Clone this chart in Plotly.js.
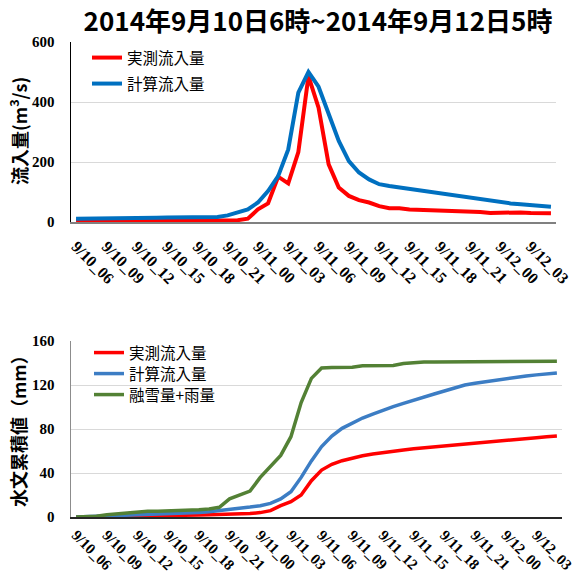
<!DOCTYPE html>
<html>
<head>
<meta charset="utf-8">
<script src="https://cdn.plot.ly/plotly-3.0.1.min.js"></script>
<style>html,body{margin:0;padding:0;background:#fff;} #chart{width:572px;height:576px;}</style>
</head>
<body>
<div id="chart"></div>
<script>
// hourly categories 9/10 06:00 .. 9/12 05:00
const hours = [
  "9/10_06","9/10_07","9/10_08","9/10_09","9/10_10","9/10_11","9/10_12","9/10_13",
  "9/10_14","9/10_15","9/10_16","9/10_17","9/10_18","9/10_19","9/10_20","9/10_21",
  "9/10_22","9/10_23","9/11_00","9/11_01","9/11_02","9/11_03","9/11_04","9/11_05",
  "9/11_06","9/11_07","9/11_08","9/11_09","9/11_10","9/11_11","9/11_12","9/11_13",
  "9/11_14","9/11_15","9/11_16","9/11_17","9/11_18","9/11_19","9/11_20","9/11_21",
  "9/11_22","9/11_23","9/12_00","9/12_01","9/12_02","9/12_03","9/12_04","9/12_05"
];
const tickLabels = ["9/10_06","9/10_09","9/10_12","9/10_15","9/10_18","9/10_21",
  "9/11_00","9/11_03","9/11_06","9/11_09","9/11_12","9/11_15","9/11_18","9/11_21",
  "9/12_00","9/12_03"];

// top: inflow (m3/s)
const measuredFlow = [4,4,4,4,4,4,4,5,5,6,6,7,7,6,5,5,6,11,42,62,151,129,233,486,
  381,192,115,87,73,65,53,46,46,42,41,37,36,35,35,36,33,30,31,29,32,30,29,29];
const computedFlow = [11,11,11,11,11,12,12,13,14,15,16,17,17,17,17,22,31,42,65,103,153,242,431,500,
  451,365,270,203,165,142,126,120,115,111,107,102,97,92,86,80,74,70,65,62,59,56,53,51];

// bottom: cumulative (mm)
const measuredCum = [0,0.1,0.2,0.3,0.4,0.5,0.6,0.6,0.8,1,1.2,1.5,1.8,2,2.2,2.4,2.7,3.2,4,5.8,10.3,14,20,33,
  42.7,47.9,51.2,53.6,55.7,57.3,58.8,60,61,62,62.9,63.8,64.7,65.6,66.4,67.3,68.1,68.9,69.7,70.5,71.3,72.1,72.9,73.6];
const computedCum = [0,0.3,0.6,1,1.4,1.8,2.1,2.4,2.8,3.1,3.4,3.7,4,4.8,5.7,6.7,7.9,9,10.3,12.4,16.4,23,36,51,
  64,73.6,80.6,85.7,90,93.6,97.3,100.3,103.3,106.4,109.2,111.8,114.5,117.3,120,121.5,123,124.4,125.7,127,128.2,129.2,130.1,131];
const snowRainCum = [0,0.3,0.7,2,2.8,4,4.8,5.2,5.3,5.5,5.8,6.2,6.6,7.2,8.8,16.5,20,23.6,36,46,56,73,104,126,
  135.5,136,136,136.2,137.5,137.7,137.7,137.8,139.5,140.3,141,141,141,141,141,141,141,141,141,141,141.2,141.3,141.4,141.5];

const names = ["実測流入量","計算流入量","融雪量+雨量"];

const W = 572, H = 576;
const px = v => v / W, py = v => 1 - v / H;

const cjk = "Noto Sans CJK JP";
const serif = "Liberation Serif";

const traces = [
  {x: hours, y: measuredFlow, name: names[0], type: "scatter", mode: "lines",
   line: {color: "#FF0000", width: 4}, xaxis: "x", yaxis: "y", legend: "legend"},
  {x: hours, y: computedFlow, name: names[1], type: "scatter", mode: "lines",
   line: {color: "#0070C0", width: 4}, xaxis: "x", yaxis: "y", legend: "legend2"},
  {x: hours, y: measuredCum, name: names[0], type: "scatter", mode: "lines",
   line: {color: "#FF0000", width: 3.5}, xaxis: "x2", yaxis: "y2", legend: "legend3"},
  {x: hours, y: computedCum, name: names[1], type: "scatter", mode: "lines",
   line: {color: "#3C7DC4", width: 3.5}, xaxis: "x2", yaxis: "y2", legend: "legend4"},
  {x: hours, y: snowRainCum, name: names[2], type: "scatter", mode: "lines",
   line: {color: "#538135", width: 3.5}, xaxis: "x2", yaxis: "y2", legend: "legend5"}
];

const boldText = arr => arr.map(s => "<b>" + s + "</b>");

const xCommon = {
  type: "category", range: [-0.5, 47.5], tickmode: "array",
  tickvals: tickLabels, ticktext: boldText(tickLabels), tickangle: 45,
  ticks: "outside", tickcolor: "rgba(0,0,0,0)",
  showgrid: false, zeroline: false, showline: true, fixedrange: true
};
const yCommon = {
  tickfont: {family: serif, size: 15, color: "#000"}, ticks: "outside", ticklen: 12,
  tickcolor: "rgba(0,0,0,0)", showgrid: true, gridcolor: "#d9d9d9", gridwidth: 1,
  zeroline: false, showline: true, fixedrange: true
};

function leg(x, yc) {
  return {x: px(x), y: py(yc), xanchor: "left", yanchor: "middle", bgcolor: "rgba(0,0,0,0)",
          font: {family: cjk, size: 15.5, color: "#000"}, tracegroupgap: 0};
}

const yTicksTop = [0, 200, 400, 600];
const yTicksBottom = [0, 40, 80, 120, 160];

const layout = {
  width: W, height: H,
  margin: {l: 0, r: 0, t: 0, b: 0},
  font: {family: serif, color: "#000"},
  paper_bgcolor: "#fff", plot_bgcolor: "#fff",
  showlegend: true,
  title: {text: "2014年9月10日6時~2014年9月12日5時", x: px(318), xanchor: "center",
          y: py(22), yanchor: "middle",
          font: {family: cjk, size: 26, color: "#000", weight: "bold"}},
  xaxis: Object.assign({}, xCommon, {domain: [px(71), px(556)], anchor: "y", ticklen: 7,
          tickfont: {family: serif, size: 16, color: "#000"},
          linecolor: "#808080", linewidth: 2}),
  yaxis: Object.assign({}, yCommon, {domain: [py(222), py(42)], anchor: "x",
          range: [0, 600], tickmode: "array", tickvals: yTicksTop, ticktext: boldText(yTicksTop.map(String)),
          linecolor: "#000", linewidth: 1.5}),
  xaxis2: Object.assign({}, xCommon, {domain: [px(71), px(562)], anchor: "y2", ticklen: 2,
          tickfont: {family: serif, size: 15, color: "#000"},
          linecolor: "#262626", linewidth: 1.5}),
  yaxis2: Object.assign({}, yCommon, {domain: [py(517), py(341)], anchor: "x2",
          range: [0, 160], tickmode: "array", tickvals: yTicksBottom, ticktext: boldText(yTicksBottom.map(String)),
          linecolor: "#8c8c8c", linewidth: 1.5}),
  legend: leg(87, 58),
  legend2: leg(87, 84),
  legend3: leg(89, 353),
  legend4: leg(89, 374),
  legend5: leg(89, 395),
  annotations: [
    {text: "流入量(m<sup>3</sup>/s)", xref: "paper", yref: "paper", x: px(18), y: py(131),
     textangle: -90, showarrow: false, xanchor: "center", yanchor: "middle",
     font: {family: cjk, size: 18, color: "#000", weight: "bold"}},
    {text: "水文累積値（mm）", xref: "paper", yref: "paper", x: px(18), y: py(427),
     textangle: -90, showarrow: false, xanchor: "center", yanchor: "middle",
     font: {family: cjk, size: 18, color: "#000", weight: "bold"}}
  ]
};

Plotly.newPlot("chart", traces, layout, {displayModeBar: false, staticPlot: true});
</script>
</body>
</html>
